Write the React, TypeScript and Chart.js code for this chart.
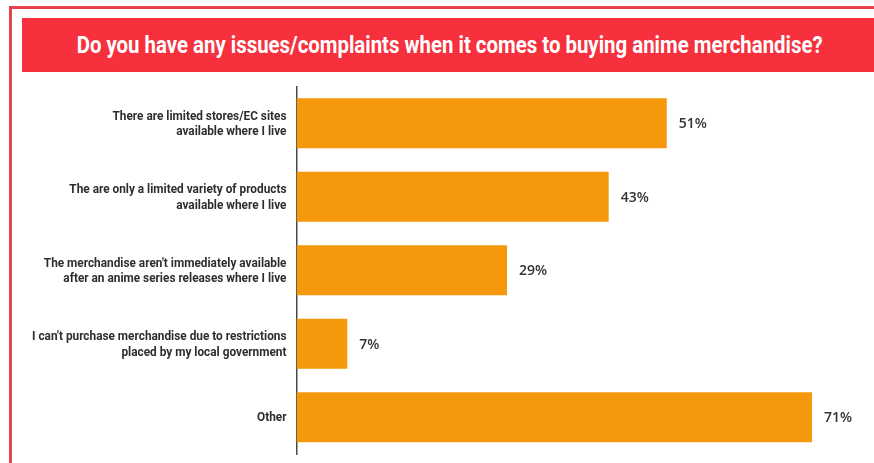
import React, { useEffect, useLayoutEffect, useRef } from "react";
import { Chart, registerables } from "chart.js";

Chart.register(...registerables);

const TITLE = "Do you have any issues/complaints when it comes to buying anime merchandise?";

const categories: string[][] = [
  ["There are limited stores/EC sites", "available where I live"],
  ["The are only a limited variety of products", "available where I live"],
  ["The merchandise aren't immediately available", "after an anime series releases where I live"],
  ["I can't purchase merchandise due to restrictions", "placed by my local government"],
  ["Other"],
];

const values: number[] = [51, 43, 29, 7, 71];

const BAR_COLOR = "#F5980B";
const RED = "#F6303D";

const valueLabelPlugin = {
  id: "valueLabels",
  afterDatasetsDraw(chart: any) {
    const { ctx } = chart;
    const meta = chart.getDatasetMeta(0);
    ctx.save();
    ctx.font = "600 14px 'Open Sans', sans-serif";
    ctx.fillStyle = "#333333";
    ctx.textAlign = "left";
    ctx.textBaseline = "middle";
    meta.data.forEach((bar: any, i: number) => {
      ctx.fillText(values[i] + "%", bar.x + 12, bar.y + 1);
    });
    ctx.restore();
  },
};

// condensed category labels drawn at the category scale's pixel positions
const yLabelPlugin = {
  id: "yLabels",
  afterDraw(chart: any) {
    const { ctx } = chart;
    const yScale = chart.scales.y;
    ctx.save();
    ctx.font = "bold 12.5px Roboto, 'Liberation Sans', sans-serif";
    ctx.fillStyle = "#2e2e2e";
    ctx.textAlign = "right";
    ctx.textBaseline = "middle";
    const refW = ctx.measureText(categories[0][0]).width;
    const sx = refW > 0 ? 174 / refW : 1;
    const xRight = chart.chartArea.left - 10;
    const lh = 15.5;
    categories.forEach((lines, i) => {
      const cy = yScale.getPixelForValue(i) + 1;
      lines.forEach((line, j) => {
        const ly = cy + (j - (lines.length - 1) / 2) * lh;
        ctx.save();
        ctx.translate(xRight, ly);
        ctx.scale(sx, 1);
        ctx.fillText(line, 0, 0);
        ctx.restore();
      });
    });
    ctx.restore();
  },
};

export default function App() {
  const canvasRef = useRef<HTMLCanvasElement | null>(null);
  const titleRef = useRef<HTMLSpanElement | null>(null);

  useLayoutEffect(() => {
    const el = titleRef.current;
    if (el) {
      el.style.transform = "none";
      const w = el.getBoundingClientRect().width;
      if (w > 0) el.style.transform = `scaleX(${746 / w})`;
    }
  }, []);

  useEffect(() => {
    if (!canvasRef.current) return;
    const chart = new Chart(canvasRef.current, {
      type: "bar",
      data: {
        labels: categories,
        datasets: [
          {
            data: values,
            backgroundColor: BAR_COLOR,
            borderWidth: 0,
            barPercentage: 0.68,
            categoryPercentage: 1,
          },
        ],
      },
      options: {
        indexAxis: "y",
        animation: false,
        responsive: false,
        maintainAspectRatio: false,
        layout: { padding: { top: 10.5, bottom: 9, left: 0, right: 33 } },
        plugins: {
          legend: { display: false },
          tooltip: { enabled: false },
          title: { display: false },
        },
        scales: {
          x: {
            display: false,
            min: 0,
            max: 75,
          },
          y: {
            afterFit: (scale: any) => {
              scale.width = 284.5;
              scale.paddingTop = 0;
              scale.paddingBottom = 0;
            },
            grid: { display: false, drawTicks: false },
            border: { display: true, color: "#4a4a4a", width: 1.5 },
            ticks: { display: false },
          },
        },
      },
      plugins: [valueLabelPlugin, yLabelPlugin],
    });
    return () => chart.destroy();
  }, []);

  return (
    <div
      style={{
        position: "absolute",
        left: 0,
        top: 0,
        width: 874,
        height: 463,
        background: "#ffffff",
        overflow: "hidden",
      }}
    >
      <div
        style={{
          position: "absolute",
          left: 9,
          top: 6,
          width: 900,
          height: 500,
          borderTop: "3px solid #E8434D",
          borderLeft: "3px solid #E8434D",
          boxSizing: "border-box",
        }}
      />
      <div
        style={{
          position: "absolute",
          left: 22,
          top: 18,
          width: 860,
          height: 54,
          background: RED,
          display: "flex",
          alignItems: "center",
          justifyContent: "center",
        }}
      >
        <span
          ref={titleRef}
          style={{
            display: "inline-block",
            whiteSpace: "nowrap",
            color: "#ffffff",
            fontFamily: "Roboto, 'Liberation Sans', sans-serif",
            fontWeight: 700,
            fontSize: 23.5,
            transformOrigin: "center center",
            marginLeft: -4,
          }}
        >
          {TITLE}
        </span>
      </div>
      <canvas
        ref={canvasRef}
        width={862}
        height={387}
        style={{ position: "absolute", left: 12, top: 76, width: 862, height: 387 }}
      />
    </div>
  );
}
